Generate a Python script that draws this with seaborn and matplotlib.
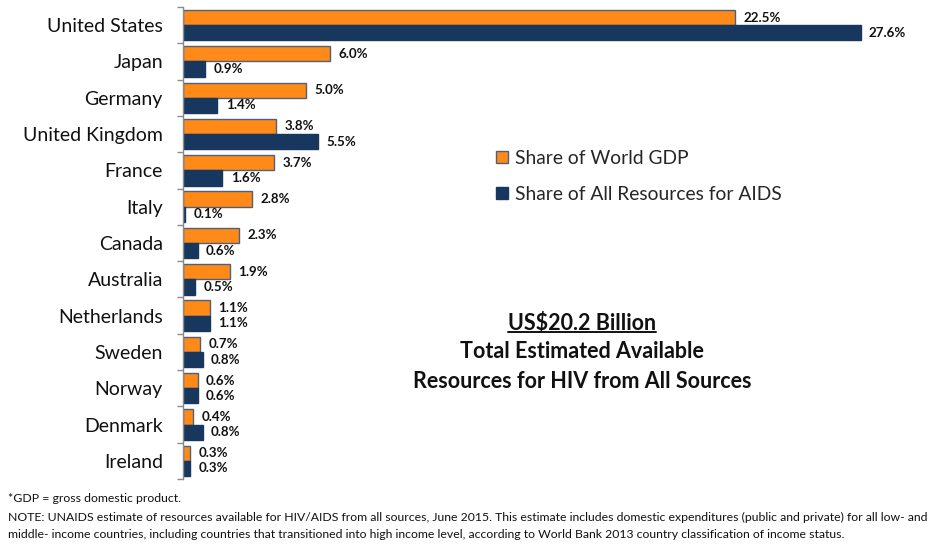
import numpy as np
import pandas as pd
import seaborn as sns
import matplotlib.pyplot as plt
from matplotlib.patches import Patch
from matplotlib.lines import Line2D

countries = ["United States", "Japan", "Germany", "United Kingdom", "France", "Italy",
             "Canada", "Australia", "Netherlands", "Sweden", "Norway", "Denmark", "Ireland"]
gdp_share = [22.5, 6.0, 5.0, 3.8, 3.7, 2.8, 2.3, 1.9, 1.1, 0.7, 0.6, 0.4, 0.3]
aids_share = [27.6, 0.9, 1.4, 5.5, 1.6, 0.1, 0.6, 0.5, 1.1, 0.8, 0.6, 0.8, 0.3]
series_names = ["Share of World GDP", "Share of All Resources for AIDS"]

ORANGE = "#FF8A17"
NAVY = "#17375E"
EDGE = "#4F6178"

df = pd.DataFrame({
    "country": countries * 2,
    "share": gdp_share + aids_share,
    "series": [series_names[0]] * len(countries) + [series_names[1]] * len(countries),
})

sns.set_theme(style="white")
plt.rcParams['font.family'] = ['Lato', 'DejaVu Sans']

fig = plt.figure(figsize=(9.44, 5.51), dpi=100)
ax = fig.add_axes([183 / 944, 1 - 479 / 551, (944 - 183) / 944, 472 / 551])

sns.barplot(data=df, y="country", x="share", hue="series", orient="h",
            palette=[ORANGE, NAVY], width=0.84, saturation=1, legend=False, ax=ax)

edge_cols = [EDGE, NAVY]
for cont, ec in zip(ax.containers, edge_cols):
    for p in cont.patches:
        p.set_edgecolor(ec)
        p.set_linewidth(1.0)

for cont, vals in zip(ax.containers, [gdp_share, aids_share]):
    ax.bar_label(cont, labels=[f"{v:.1f}%" for v in vals], padding=6,
                 fontsize=9.6, fontweight="bold", color="#111111")

ax.set_xlim(0, 31.0)
ax.set_ylim(len(countries) - 0.5, -0.5)
ax.set_xlabel("")
ax.set_ylabel("")
ax.xaxis.set_visible(False)
for s in ["top", "right", "bottom"]:
    ax.spines[s].set_visible(False)
ax.spines["left"].set_color("#8a8a8a")
ax.spines["left"].set_linewidth(1.0)

ax.set_yticks(range(len(countries)))
ax.set_yticklabels(countries, fontsize=14, color="#111111")
ax.tick_params(axis="y", which="major", length=0, pad=14.5)
ax.set_yticks(np.arange(-0.5, len(countries), 1.0), minor=True)
ax.tick_params(axis="y", which="minor", length=4, width=1.0, color="#8a8a8a", direction="out", left=True)

handles = [Patch(facecolor=ORANGE, edgecolor=EDGE, linewidth=1.0),
           Patch(facecolor=NAVY, edgecolor=NAVY, linewidth=1.0)]
fig.legend(handles, series_names, loc="upper left",
           bbox_to_anchor=(496 / 944, 1 - 150 / 551), frameon=False,
           fontsize=13.9, handlelength=0.6, handleheight=0.6, handletextpad=0.4,
           labelspacing=0.98, borderpad=0, borderaxespad=0)

cx = 582 / 944
t1 = fig.text(cx, 1 - 323 / 551, "US$20.2 Billion", ha="center", va="center",
              fontsize=15.5, fontweight="bold", color="#111111")
fig.text(cx, 1 - 352 / 551, "Total Estimated Available", ha="center", va="center",
         fontsize=15.5, fontweight="bold", color="#111111")
fig.text(cx, 1 - 381 / 551, "Resources for HIV from All Sources", ha="center", va="center",
         fontsize=15.5, fontweight="bold", color="#111111")

fig.canvas.draw()
bb = t1.get_window_extent(fig.canvas.get_renderer()).transformed(fig.transFigure.inverted())
fig.add_artist(Line2D([bb.x0, bb.x1], [bb.y0 + 0.002, bb.y0 + 0.002], color="#111111",
                      linewidth=1.4, transform=fig.transFigure))

foot_font = ['Lato', 'DejaVu Sans']
fig.text(8 / 944, 1 - 498 / 551, "*GDP = gross domestic product.", ha="left", va="center",
         fontsize=8.8, family=foot_font, color="#111111")
fig.text(8 / 944, 1 - 517 / 551,
         "NOTE: UNAIDS estimate of resources available for HIV/AIDS from all sources, June 2015. This estimate includes domestic expenditures (public and private) for all low- and",
         ha="left", va="center", fontsize=8.8, family=foot_font, color="#111111")
fig.text(8 / 944, 1 - 534 / 551,
         "middle- income countries, including countries that transitioned into high income level, according to World Bank 2013 country classification of income status.",
         ha="left", va="center", fontsize=8.8, family=foot_font, color="#111111")

fig.savefig("out.png", dpi=100, facecolor="white")
